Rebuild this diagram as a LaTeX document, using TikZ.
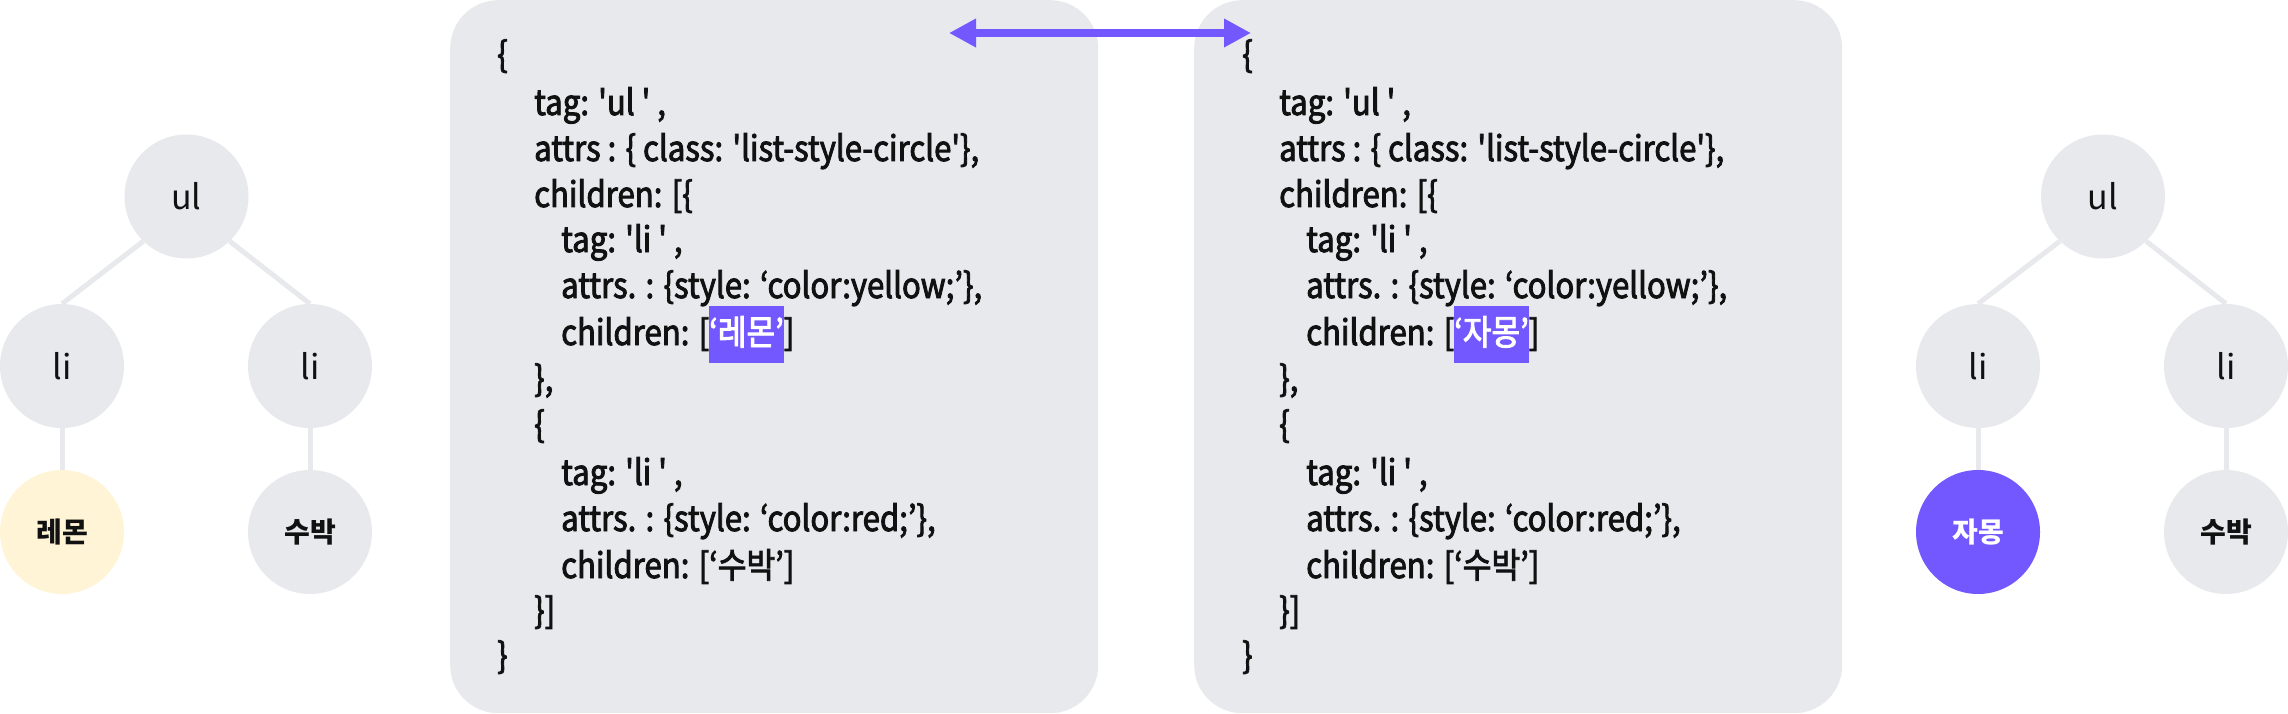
\documentclass[tikz,border=0pt]{standalone}
\usepackage{fontspec}
\setmainfont{Noto Sans CJK KR}
\newfontfamily\codefont[FakeStretch=0.89,FakeBold=2.5]{Noto Sans CJK KR}
\usetikzlibrary{arrows.meta}
\definecolor{panelgray}{HTML}{E8E9ED}
\definecolor{accent}{HTML}{7357FF}
\definecolor{cream}{HTML}{FFF4D6}
\definecolor{ink}{HTML}{111111}
\newcommand{\sq}{\symbol{39}}
\newcommand{\hlbox}[1]{{\setlength{\fboxsep}{0pt}\colorbox{accent}{\rule[-18pt]{0pt}{57pt}\textcolor{white}{#1}}}}
\begin{document}
\begin{tikzpicture}[x=1pt,y=-1pt,
  treenode/.style={circle, fill=panelgray, minimum size=124pt, inner sep=0pt, text=ink, font=\fontsize{34}{34}\selectfont},
  leafnode/.style={treenode, font=\fontsize{28}{28}\selectfont\bfseries},
  treeline/.style={draw=panelgray, line width=5pt},
  panelbox/.style={fill=panelgray, rounded corners=48pt, inner sep=0pt, anchor=north west, minimum width=648pt, minimum height=713pt},
  codeline/.style={anchor=base west, inner sep=0pt, text=ink, font=\codefont\fontsize{35}{35}\selectfont},
  swaparrow/.style={draw=accent, line width=8pt, {Triangle[length=27pt,width=27pt]}-{Triangle[length=27pt,width=27pt]}}
]
\useasboundingbox (0,0) rectangle (2288,714);

% panels
\node[panelbox] (panelL) at (450,0) {};
\node[panelbox] (panelR) at (1194,0) {};

% left code
\node[codeline] (L1)  at (497,67)  {\{};
\node[codeline] (L2)  at (534,115) {tag: \sq{}ul \sq{} ,};
\node[codeline] (L3)  at (534,161) {attrs : \{ class: \sq{}list-style-circle\sq\},};
\node[codeline] (L4)  at (534,207) {children: [\{};
\node[codeline] (L5)  at (561,252) {tag: \sq{}li \sq{} ,};
\node[codeline] (L6)  at (561,298) {attrs. : \{style: ‘color:yellow;’\},};
\node[codeline] (L7)  at (561,345) {children: [\hlbox{‘레몬’}]};
\node[codeline] (L8)  at (534,391) {\},};
\node[codeline] (L9)  at (534,437) {\{};
\node[codeline] (L10) at (561,485) {tag: \sq{}li \sq{} ,};
\node[codeline] (L11) at (561,531) {attrs. : \{style: ‘color:red;’\},};
\node[codeline] (L12) at (561,578) {children: [‘수박’]};
\node[codeline] (L13) at (534,623) {\}]};
\node[codeline] (L14) at (497,668) {\}};

% right code
\node[codeline] (R1)  at (1242,67)  {\{};
\node[codeline] (R2)  at (1279,115) {tag: \sq{}ul \sq{} ,};
\node[codeline] (R3)  at (1279,161) {attrs : \{ class: \sq{}list-style-circle\sq\},};
\node[codeline] (R4)  at (1279,207) {children: [\{};
\node[codeline] (R5)  at (1306,252) {tag: \sq{}li \sq{} ,};
\node[codeline] (R6)  at (1306,298) {attrs. : \{style: ‘color:yellow;’\},};
\node[codeline] (R7)  at (1306,345) {children: [\hlbox{‘자몽’}]};
\node[codeline] (R8)  at (1279,391) {\},};
\node[codeline] (R9)  at (1279,437) {\{};
\node[codeline] (R10) at (1306,485) {tag: \sq{}li \sq{} ,};
\node[codeline] (R11) at (1306,531) {attrs. : \{style: ‘color:red;’\},};
\node[codeline] (R12) at (1306,578) {children: [‘수박’]};
\node[codeline] (R13) at (1279,623) {\}]};
\node[codeline] (R14) at (1242,668) {\}};

% arrow between panels
\coordinate (arrL) at (949,33);
\coordinate (arrR) at (1251,33);
\draw[swaparrow] (arrL) -- (arrR);

% left tree
\node[treenode] (ulA) at (186.5,196.5) {ul};
\node[treenode] (liA1) at (62,366) {li};
\node[treenode] (liA2) at (310,366) {li};
\node[leafnode, fill=cream] (lfA1) at (62,532) {레몬};
\node[leafnode] (lfA2) at (310,532) {수박};
\draw[treeline] (ulA.226) -- (liA1.north);
\draw[treeline] (ulA.314) -- (liA2.north);
\draw[treeline] (liA1.south) -- (lfA1.north);
\draw[treeline] (liA2.south) -- (lfA2.north);

% right tree
\node[treenode] (ulB) at (2103,196.5) {ul};
\node[treenode] (liB1) at (1978,366) {li};
\node[treenode] (liB2) at (2226,366) {li};
\node[leafnode, fill=accent, text=white] (lfB1) at (1978,532) {자몽};
\node[leafnode] (lfB2) at (2226,532) {수박};
\draw[treeline] (ulB.226) -- (liB1.north);
\draw[treeline] (ulB.314) -- (liB2.north);
\draw[treeline] (liB1.south) -- (lfB1.north);
\draw[treeline] (liB2.south) -- (lfB2.north);
\end{tikzpicture}
\end{document}
